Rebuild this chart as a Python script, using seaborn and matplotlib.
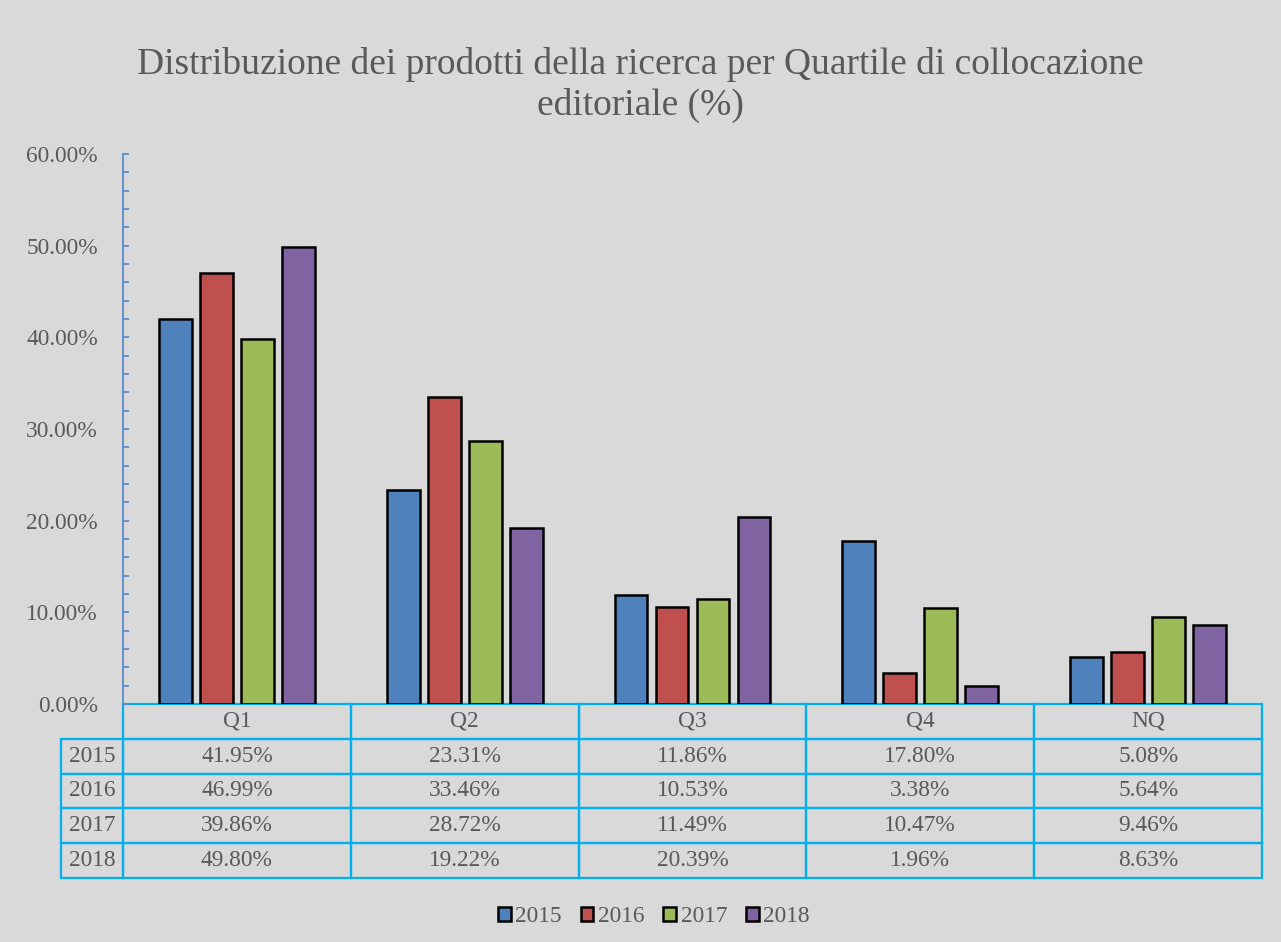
import pandas as pd
import matplotlib
matplotlib.use('Agg')
import matplotlib.pyplot as plt
import seaborn as sns
from matplotlib.ticker import FuncFormatter, MultipleLocator

# Data
quartiles = ['Q1', 'Q2', 'Q3', 'Q4', 'NQ']
years = ['2015', '2016', '2017', '2018']
values_2015 = [41.95, 23.31, 11.86, 17.80, 5.08]
values_2016 = [46.99, 33.46, 10.53, 3.38, 5.64]
values_2017 = [39.86, 28.72, 11.49, 10.47, 9.46]
values_2018 = [49.80, 19.22, 20.39, 1.96, 8.63]

bar_colors = ['#4F81BD', '#C0504D', '#9BBB59', '#8064A2']
bg = '#D9D9D9'
text_col = '#595959'
table_col = '#00B0F0'

series = [values_2015, values_2016, values_2017, values_2018]
df = pd.DataFrame([
    {'quartile': q, 'year': y, 'value': v}
    for y, vals in zip(years, series)
    for q, v in zip(quartiles, vals)
])

sns.set_style('white')
plt.rcParams['font.family'] = ['Liberation Serif', 'DejaVu Serif']
small = 16.8

fig = plt.figure(figsize=(12.81, 9.42), dpi=100, facecolor=bg)
ax = fig.add_axes([0.0960, 0.2527, 0.8892, 0.5839])
ax.set_facecolor(bg)

sns.barplot(data=df, x='quartile', y='value', hue='year', palette=bar_colors,
            saturation=1, edgecolor='black', linewidth=1.8, width=0.72, gap=0.2,
            ax=ax)

ax.set_ylim(0, 60)
ax.set_xlim(-0.5, 4.5)
ax.yaxis.set_major_locator(MultipleLocator(10))
ax.yaxis.set_minor_locator(MultipleLocator(2))
ax.yaxis.set_major_formatter(FuncFormatter(lambda v, pos: f'{v:.2f}%'))
ax.tick_params(axis='y', which='both', direction='in', length=4, width=1.3,
               color='#5B8BD0', labelsize=small, labelcolor=text_col, pad=18, left=True)
ax.tick_params(axis='x', bottom=False, labelbottom=False)
ax.set_xlabel('')
ax.set_ylabel('')
for s in ['top', 'right', 'bottom']:
    ax.spines[s].set_visible(False)
ax.spines['left'].set_color('#5B8BD0')
ax.spines['left'].set_linewidth(1.3)

# legend at the bottom of the figure
handles, labels = ax.get_legend_handles_labels()
ax.legend_.remove()
fig.legend(handles, labels, loc='center', bbox_to_anchor=(0.5105, 1 - 917 / 942), ncol=4,
           frameon=False, fontsize=small, handlelength=0.55, handleheight=0.55,
           handletextpad=0.2, columnspacing=0.8, labelcolor=text_col)

# data table under the bars (bbox covers the value columns, year labels hang left)
cell_text = [[f'{v:.2f}%' for v in vals] for vals in series]
tbl = ax.table(cellText=cell_text, colLabels=quartiles, cellLoc='center',
               colLoc='center', colWidths=[0.2] * 5,
               bbox=[0, -0.3164, 1, 0.3164])
cell_h = tbl[1, 0].get_height()
for i, y in enumerate(years):
    tbl.add_cell(i + 1, -1, width=0.0544, height=cell_h, text=y, loc='center')
tbl.auto_set_font_size(False)
for key, cell in tbl.get_celld().items():
    cell.set_edgecolor(table_col)
    cell.set_linewidth(1.6)
    cell.set_facecolor('none')
    cell.get_text().set_color(text_col)
    cell.get_text().set_fontsize(small)

fig.text(0.5, 1 - 47 / 942,
         'Distribuzione dei prodotti della ricerca per Quartile di collocazione\neditoriale (%)',
         ha='center', va='top', fontsize=27, color=text_col, linespacing=1.2)

plt.savefig('out.png', dpi=100, facecolor=bg)
plt.close()
